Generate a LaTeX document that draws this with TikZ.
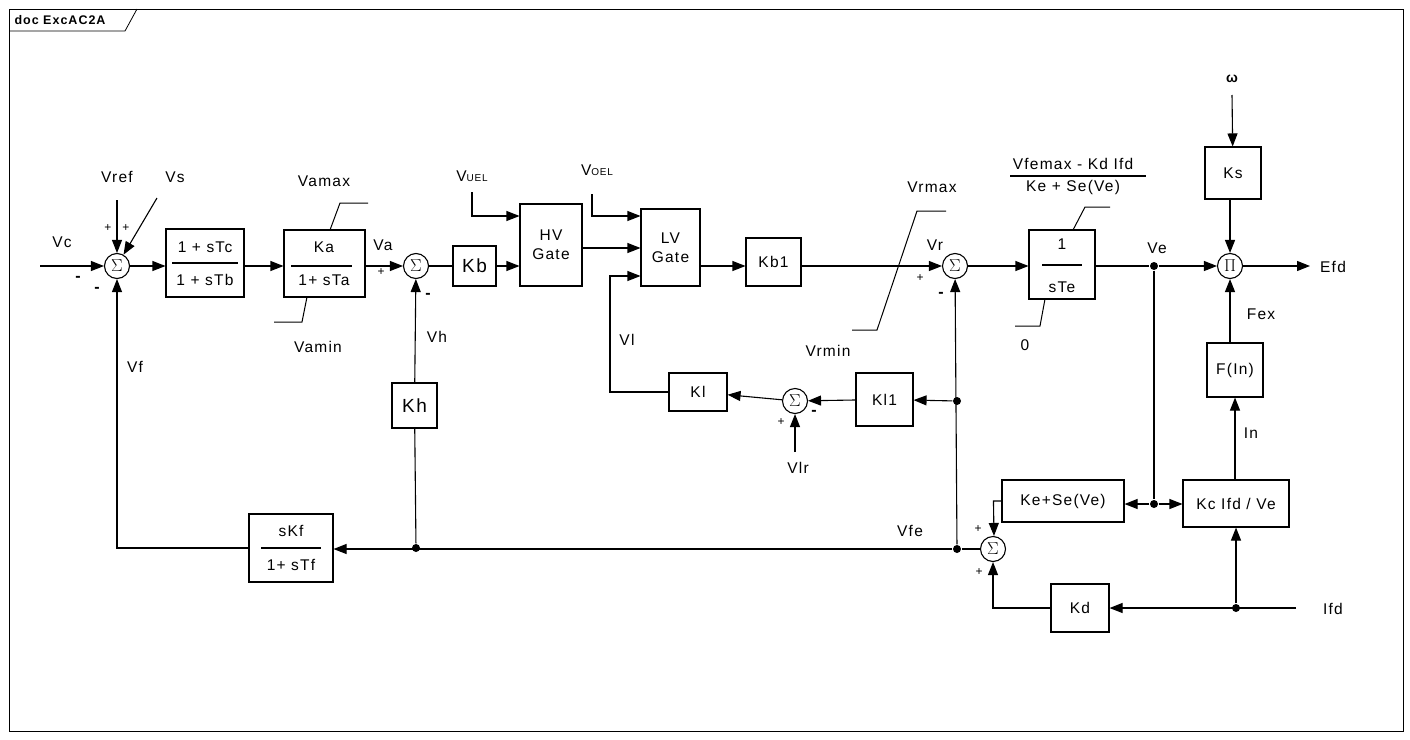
\documentclass[tikz,border=0pt]{standalone}
\usepackage{fontspec}
\setmainfont[LetterSpace=8]{Liberation Sans}
\usetikzlibrary{arrows.meta}
\begin{document}
\begin{tikzpicture}[x=1pt,y=-1pt,line width=1.1pt,
  blk/.style={draw,inner sep=0pt},
  sm/.style={draw,circle,minimum size=25pt,inner sep=0pt,font=\fontsize{16}{16}\selectfont},
  lbl/.style={font=\fontsize{15.5}{18}\selectfont,inner sep=0pt},
  pm/.style={font=\fontsize{12}{12}\selectfont,inner sep=0pt},
  mn/.style={font=\bfseries\fontsize{16}{16}\selectfont,inner sep=0pt},
  ar/.style={-{Triangle[length=13pt,width=10pt]}},
  dot/.style={circle,fill,inner sep=0pt,minimum size=8pt},
  lim/.style={line width=1pt}]
\useasboundingbox (0,0) rectangle (1410,739);
% frame
\draw[line width=0.8pt] (9,9) rectangle (1403,731);
\draw[line width=0.8pt] (9,31) -- (125,31) -- (137,9);
\node[font=\bfseries\fontsize{12.5}{12}\selectfont,anchor=west,inner sep=0pt] (title) at (14,20) {doc ExcAC2A};
% sums
\node[sm] (s1) at (117,266) {$\Sigma$};
\node[sm] (s2) at (416,266) {$\Sigma$};
\node[sm] (s3) at (955,266) {$\Sigma$};
\node[sm] (s4) at (993,549) {$\Sigma$};
\node[sm] (s5) at (795,401) {$\Sigma$};
\node[sm] (pi) at (1230,266) {$\Pi$};
% boxes
\node[blk,minimum width=78pt,minimum height=68pt] (b1) at (205,263) {};
\node[blk,minimum width=81pt,minimum height=67pt] (b2) at (324.5,263.5) {};
\node[blk,minimum width=43pt,minimum height=40pt,font=\fontsize{19}{19}\selectfont] (kb) at (474.5,266) {Kb};
\node[blk,minimum width=62pt,minimum height=82pt,font=\fontsize{15.5}{19}\selectfont,align=center] (hv) at (551,245) {HV\\Gate};
\node[blk,minimum width=59pt,minimum height=77pt,font=\fontsize{15.5}{19}\selectfont,align=center] (lv) at (670.5,247.5) {LV\\Gate};
\node[blk,minimum width=55pt,minimum height=48pt,lbl] (kb1) at (773.5,262) {Kb1};
\node[blk,minimum width=66pt,minimum height=69pt] (te) at (1062,264.5) {};
\node[blk,minimum width=56pt,minimum height=52pt,lbl] (ks) at (1233,173) {Ks};
\node[blk,minimum width=56pt,minimum height=54pt,lbl] (fin) at (1235,370) {F(In)};
\node[blk,minimum width=106pt,minimum height=47pt,lbl] (kc) at (1236,503.5) {Kc Ifd / Ve};
\node[blk,minimum width=122pt,minimum height=42pt,lbl] (kese) at (1063,501) {Ke+Se(Ve)};
\node[blk,minimum width=58pt,minimum height=48pt,lbl] (kd) at (1080,608) {Kd};
\node[blk,minimum width=57pt,minimum height=53pt,lbl] (kl1) at (884.5,399.5) {Kl1};
\node[blk,minimum width=58pt,minimum height=38pt,lbl] (kl) at (698,392) {Kl};
\node[blk,minimum width=84pt,minimum height=68pt] (skf) at (291,548) {};
\node[blk,minimum width=45pt,minimum height=45pt,font=\fontsize{19}{19}\selectfont] (kh) at (414.5,405.5) {Kh};
% fractions
\node[lbl] (b1n) at (205,247) {1 + sTc};
\node[lbl] (b1d) at (205,280) {1 + sTb};
\draw (172,263) -- (238,263);
\node[lbl] (b2n) at (324,247) {Ka};
\node[lbl] (b2d) at (324,280) {1+ sTa};
\draw (291,266) -- (352,266);
\node[lbl] (ten) at (1062,244) {1};
\node[lbl] (ted) at (1062,287) {sTe};
\draw (1042,265) -- (1082,265);
\node[lbl] (skfn) at (291,531) {sKf};
\node[lbl] (skfd) at (291,565) {1+ sTf};
\draw (261,548) -- (321,548);
\node[lbl] (vfen) at (1073,164) {Vfemax - Kd Ifd};
\node[lbl] (vfed) at (1073,187) {Ke + Se(Ve)};
\draw (1010,176) -- (1146,176);
% limiters
\draw[lim] (330,230) -- (340,203) -- (368,203);
\draw[lim] (307,297) -- (302,322) -- (274,322);
\draw[lim] (1073,230) -- (1085,207) -- (1110,207);
\draw[lim] (1045,299) -- (1040,326) -- (1015,326);
\draw[lim] (852,330) -- (877,330) -- (917,211) -- (946,211);
% coordinates
\coordinate (vcin) at (40,266);
\coordinate (vrefin) at (117,200);
\coordinate (vsin) at (157,198);
\coordinate (vuel) at (472,192);
\coordinate (voel) at (592,194);
\coordinate (vlrin) at (795,452);
\coordinate (win) at (1232,95);
\coordinate (efd) at (1310,266);
\coordinate (ifdin) at (1296,608);
\node[dot] (dve) at (1154,266) {};
\node[dot] (dve2) at (1154,504) {};
\node[dot] (dvfe) at (957,549) {};
\node[dot] (dkl) at (957,401) {};
\node[dot] (difd) at (1236,608) {};
\node[dot] (dvh) at (416,548) {};
% connectors
\draw[ar] (vcin) -- (s1);
\draw[ar] (vrefin) -- (s1);
\draw[ar] (vsin) -- (s1.60);
\draw[ar] (s1) -- (b1.west |- s1);
\draw[ar] (b1.east |- s1) -- (b2.west |- s1);
\draw[ar] (b2.east |- s2) -- (s2);
\draw (s2) -- (kb);
\draw[ar] (kb) -- (hv.west |- kb);
\draw[ar] (vuel) |- (hv.west |- 0,216);
\draw[ar] (hv.east |- 0,248) -- (lv.west |- 0,248);
\draw[ar] (voel) |- (lv.west |- 0,216);
\draw[ar] (kl.west) -| (610,276) -- (lv.west |- 0,276);
\draw[ar] (lv.east |- 0,266) -- (kb1.west |- 0,266);
\draw[ar] (kb1.east |- s3) -- (s3);
\draw[ar] (s3) -- (te.west |- s3);
\draw (te.east |- dve) -- (dve);
\draw[ar] (dve) -- (pi);
\draw[ar] (pi) -- (efd);
\draw[ar] (win) -- (ks);
\draw[ar] (ks.south -| pi) -- (pi);
\draw[ar] (fin.north -| pi) -- (pi);
\draw[ar] (kc.north -| fin) -- (fin);
\draw (dve) -- (dve2);
\draw[ar] (dve2) -- (kese.east |- dve2);
\draw[ar] (dve2) -- (kc.west |- dve2);
\draw[ar] (kese.west) -- ++(-8,0) -- (s4.north -| 994,0);
\draw[ar] (ifdin) -- (kd);
\draw[ar] (difd) -- (kc.south -| difd);
\draw[ar] (kd) -| (s4);
\draw (s4) -- (dvfe);
\draw[ar] (dvfe) -- (skf.east |- dvfe);
\draw[ar] (dvfe) -- (s3);
\draw[ar] (dkl) -- (kl1);
\draw[ar] (kl1) -- (s5);
\draw[ar] (s5) -- (kl);
\draw[ar] (vlrin) -- (s5);
\draw[ar] (skf.west |- 0,548) -| (s1);
\draw (dvh) -- (kh);
\draw[ar] (kh) -- (s2);
% labels
\node[lbl] (lvc) at (62,242) {Vc};
\node[lbl] (lvref) at (117,177) {Vref};
\node[lbl] (lvs) at (175,177) {Vs};
\node[lbl] (lvamax) at (324,181) {Vamax};
\node[lbl] (lvamin) at (318,347) {Vamin};
\node[lbl] (lva) at (383,245) {Va};
\node[lbl] (lvh) at (437,337) {Vh};
\node[lbl] (lvf) at (135,367) {Vf};
\node[lbl] (lvuel) at (472,176) {V\fontsize{10}{10}\selectfont UEL};
\node[lbl] (lvoel) at (597,170) {V\fontsize{10}{10}\selectfont OEL};
\node[lbl] (lvl) at (627,340) {Vl};
\node[lbl] (lvrmax) at (932,187) {Vrmax};
\node[lbl] (lvrmin) at (828,351) {Vrmin};
\node[lbl] (lvr) at (935,245) {Vr};
\node[lbl] (lvlr) at (798,468) {Vlr};
\node[lbl] (l0) at (1025,345) {0};
\node[lbl,font=\bfseries\fontsize{14}{14}\selectfont] (lw) at (1232,79) {ω};
\node[lbl] (lve) at (1157,248) {Ve};
\node[lbl] (lefd) at (1333,267) {Efd};
\node[lbl] (lfex) at (1261,314) {Fex};
\node[lbl] (lin) at (1251,433) {In};
\node[lbl] (lvfe) at (910,531) {Vfe};
\node[lbl] (lifd) at (1333,609) {Ifd};
\node[pm] (p1) at (108,228) {+};
\node[pm] (p2) at (126,228) {+};
\node[mn] (m1) at (78,279) {-};
\node[mn] (m2) at (97,290) {-};
\node[pm] (p3) at (381,272) {+};
\node[mn] (m3) at (428,296) {-};
\node[pm] (p4) at (920,278) {+};
\node[mn] (m4) at (941,295) {-};
\node[mn] (m5) at (814,413) {-};
\node[pm] (p5) at (781,422) {+};
\node[pm] (p6) at (978,529) {+};
\node[pm] (p7) at (979,572) {+};
\end{tikzpicture}
\end{document}
